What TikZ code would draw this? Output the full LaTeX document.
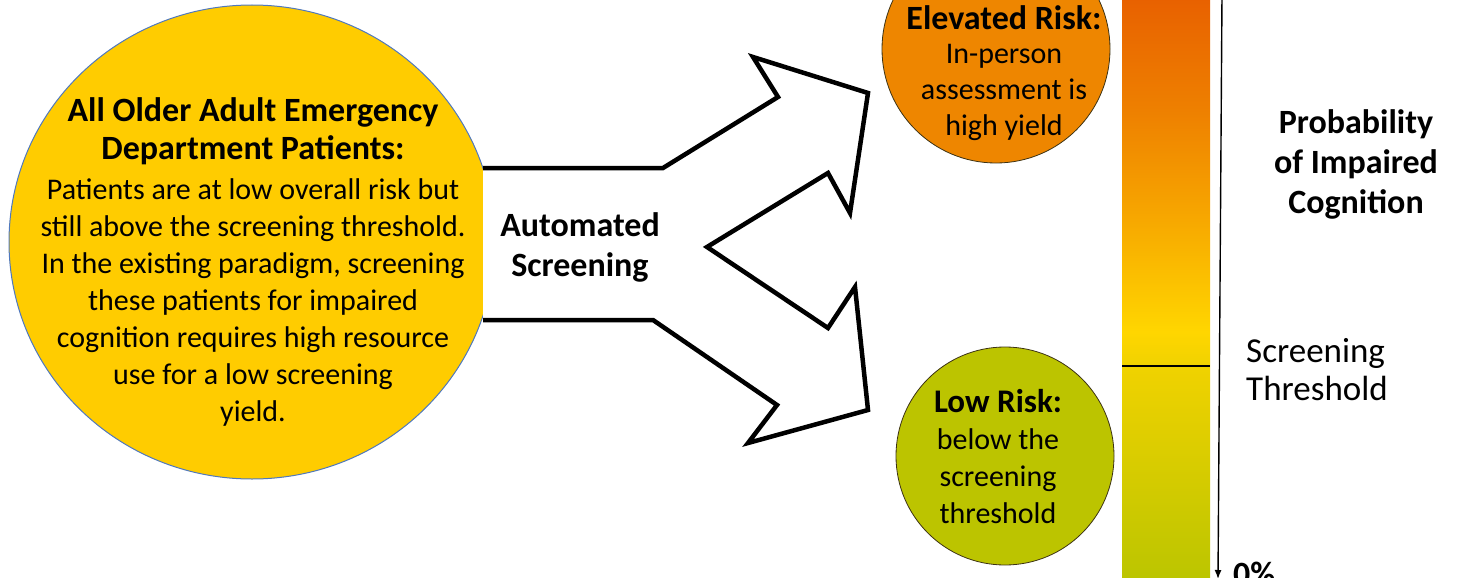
\documentclass[tikz,border=0pt]{standalone}
\usepackage{fontspec}
\setmainfont{Carlito}
\usetikzlibrary{arrows.meta,shapes.geometric}

\definecolor{popfill}{RGB}{255,204,0}
\definecolor{popedge}{RGB}{79,120,190}
\definecolor{hifill}{RGB}{238,134,0}
\definecolor{lofill}{RGB}{188,196,0}
\definecolor{ringedge}{RGB}{60,50,20}
\definecolor{barbot}{RGB}{188,197,0}
\definecolor{barthr}{RGB}{240,210,0}
\definecolor{baryel}{RGB}{255,214,0}
\definecolor{baramb}{RGB}{247,168,0}
\definecolor{barora}{RGB}{238,128,0}
\definecolor{bartop}{RGB}{232,96,0}

% bottom-to-top colour stops of the probability bar; 25bp..75bp spans the bar
\pgfdeclareverticalshading{riskbar}{100bp}{%
  color(0bp)=(barbot); color(25bp)=(barbot); color(43.2bp)=(barthr);
  color(46.1bp)=(baryel); color(55.7bp)=(baramb); color(65.1bp)=(barora);
  color(75bp)=(bartop); color(100bp)=(bartop)}

\tikzset{
  plain/.style={align=center, text=black, inner sep=0pt},
  riskdisc/.style={circle, draw=ringedge, line width=0.8pt, inner sep=0pt},
  bigarrow/.style={draw=black, fill=white, line width=4.5pt, line join=miter},
}

\begin{document}
\begin{tikzpicture}[x=1pt,y=-1pt]
\useasboundingbox (0,0) rectangle (1462,578);
\clip (0,0) rectangle (1462,578);

% population disc
\node[ellipse, draw=popedge, fill=popfill, line width=1pt, inner sep=0pt,
      minimum width=486pt, minimum height=474pt] (pop) at (252,242) {};
\node[plain, font=\bfseries\fontsize{34}{38}\selectfont] (poptitle) at (253,131)
  {All Older Adult Emergency\\Department Patients:};
\node[plain, font=\fontsize{30}{37}\selectfont] (popbody) at (253,302)
  {Patients are at low overall risk but\\
   still above the screening threshold.\\
   In the existing paradigm, screening\\
   these patients for impaired\\
   cognition requires high resource\\
   use for a low screening\\
   yield.};

% forked arrow
\draw[bigarrow]
  (483,168) -- (663,168) -- (778,97) -- (753,57) -- (868,93) -- (850,213)
  -- (828,173) -- (707,247) -- (828,328) -- (855,287) -- (868,410)
  -- (748,443) -- (777,405) -- (653,320) -- (483,320);
\node[plain, font=\bfseries\fontsize{34}{40}\selectfont] (auto) at (580,247)
  {Automated\\Screening};

% elevated-risk disc
\node[riskdisc, fill=hifill, minimum size=228pt] (hi) at (996,49) {};
\node[plain, font=\bfseries\fontsize{34}{36}\selectfont] (hititle) at (1004,18) {Elevated Risk:};
\node[plain, font=\fontsize{30}{36}\selectfont] (hibody) at (1004,92)
  {In-person\\assessment is\\high yield};

% low-risk disc
\node[riskdisc, fill=lofill, minimum size=218pt] (lo) at (1005,456) {};
\node[plain, font=\bfseries\fontsize{33}{37}\selectfont] (lotitle) at (998,401) {Low Risk:};
\node[plain, font=\fontsize{30}{37}\selectfont] (lobody) at (998,476)
  {below the\\screening\\threshold};

% probability bar with threshold mark
\shade[shading=riskbar] (1122,-5) rectangle (1210,578);
\coordinate (thrL) at (1122,366);
\coordinate (thrR) at (1210,366);
\draw[line width=1.8pt] (thrL) -- (thrR);

% probability axis
\coordinate (axtop) at (1222,-5);
\coordinate (axbot) at (1218,579);
\draw[line width=1.4pt, -{Latex[length=9pt,width=7pt]}] (axtop) -- (axbot);
\node[font=\bfseries\fontsize{34}{38}\selectfont, anchor=north west, inner sep=0pt] (zero) at (1233,562) {0\%};

\node[plain, font=\bfseries\fontsize{34}{40}\selectfont] (prob) at (1356,164)
  {Probability\\of Impaired\\Cognition};
\node[plain, font=\fontsize{35}{38}\selectfont, align=left, anchor=west] (thr) at (1246,370)
  {Screening\\Threshold};
\end{tikzpicture}
\end{document}
